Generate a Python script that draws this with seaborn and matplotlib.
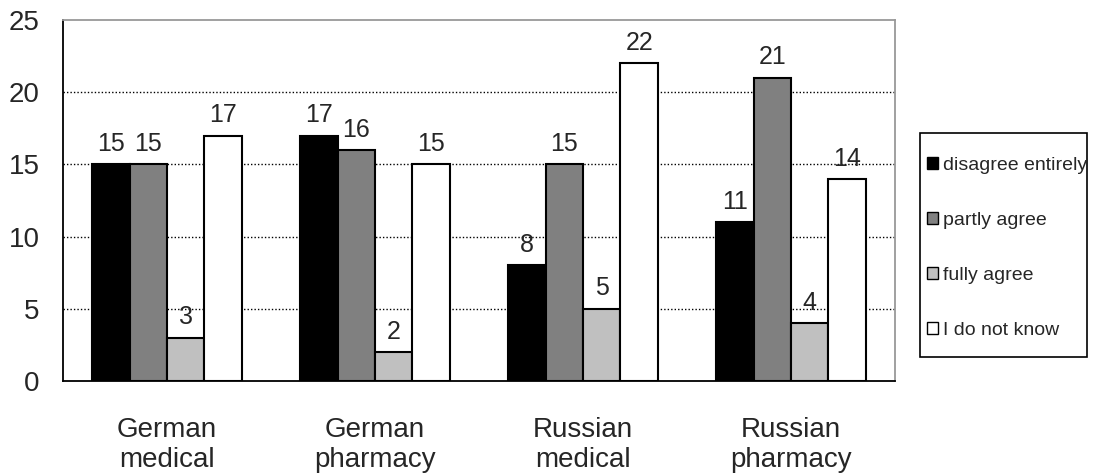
import matplotlib
matplotlib.use("Agg")
import matplotlib.pyplot as plt
import seaborn as sns
import pandas as pd
import numpy as np
from matplotlib.patches import Patch, Rectangle

categories = ["German\nmedical", "German\npharmacy", "Russian\nmedical", "Russian\npharmacy"]
series_names = ["disagree entirely", "partly agree", "fully agree", "I do not know"]
disagree_entirely = [15, 17, 8, 11]
partly_agree = [15, 16, 15, 21]
fully_agree = [3, 2, 5, 4]
do_not_know = [17, 15, 22, 14]
colors = ["#000000", "#808080", "#c0c0c0", "#ffffff"]

rows = []
for name, vals in zip(series_names, [disagree_entirely, partly_agree, fully_agree, do_not_know]):
    for c, v in zip(categories, vals):
        rows.append({"group": c, "answer": name, "count": v})
df = pd.DataFrame(rows)

sns.set_style("white")
plt.rcParams["font.family"] = ["Liberation Sans", "DejaVu Sans"]

fig = plt.figure(figsize=(10.94, 4.76), dpi=100)
ax = fig.add_axes([63/1094, 95/476, 832/1094, 361/476])

sns.barplot(data=df, x="group", y="count", hue="answer", order=categories,
            hue_order=series_names, palette=colors, width=0.72,
            edgecolor="black", linewidth=1.5, saturation=1, ax=ax, legend=False)

for cont in ax.containers:
    ax.bar_label(cont, fontsize=18, padding=6)

ax.set_ylim(0, 25)
ax.set_xlim(-0.5, 3.5)
ax.set_yticks([0, 5, 10, 15, 20, 25])
ax.tick_params(axis="y", labelsize=20, length=5, width=1, direction="out", pad=12)
ax.tick_params(axis="x", which="major", labelsize=20, length=0, pad=26)
ax.set_xticks(np.arange(-0.5, 4.0, 1.0), minor=True)
ax.tick_params(axis="x", which="minor", length=8, width=1, direction="out")
ax.set_xlabel("")
ax.set_ylabel("")
for y in [5, 10, 15, 20]:
    ax.axhline(y, color="black", linestyle=(0, (1, 1.5)), linewidth=1, zorder=0)
ax.set_axisbelow(True)

ax.spines["left"].set_color("black")
ax.spines["left"].set_linewidth(1.3)
ax.spines["bottom"].set_color("black")
ax.spines["bottom"].set_linewidth(1.3)
ax.spines["top"].set_color("#999999")
ax.spines["right"].set_color("#999999")
ax.spines["top"].set_linewidth(1.3)
ax.spines["right"].set_linewidth(1.3)

# legend frame (fixed box; text may overflow like in the original)
fig.patches.append(Rectangle((920/1094, 1 - 357/476), 167/1094, 224/476,
                             transform=fig.transFigure, facecolor="white",
                             edgecolor="black", linewidth=1.2, zorder=0))
handles = [Patch(facecolor=c, edgecolor="black", linewidth=1) for c in colors]
leg = fig.legend(handles, series_names, loc="upper left",
                 bbox_to_anchor=(927/1094, 1 - 157/476), bbox_transform=fig.transFigure,
                 fontsize=14, frameon=False,
                 handlelength=0.55, handleheight=0.55, handletextpad=0.25,
                 labelspacing=1.95, borderpad=0.0, borderaxespad=0)

fig.savefig("out.png", dpi=100)
